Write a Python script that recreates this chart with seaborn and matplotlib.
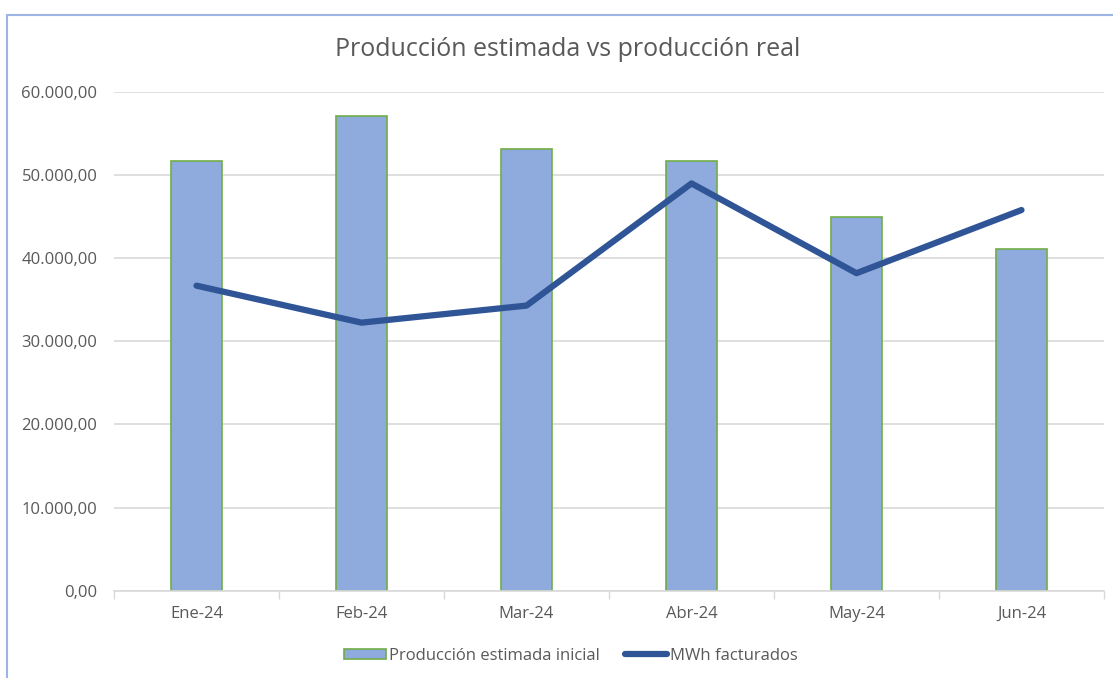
import matplotlib
matplotlib.use("Agg")
import matplotlib.pyplot as plt
import matplotlib.ticker as mticker
from matplotlib.lines import Line2D
from matplotlib.patches import Patch
import seaborn as sns
import pandas as pd
import numpy as np

months = ["Ene-24", "Feb-24", "Mar-24", "Abr-24", "May-24", "Jun-24"]
estimada = [51700, 57150, 53150, 51650, 45000, 41100]
facturados = [36700, 32250, 34300, 49000, 38200, 45800]
label_bar = "Producción estimada inicial"
label_line = "MWh facturados"
title = "Producción estimada vs producción real"

sns.set_theme(style="white")
plt.rcParams['font.family'] = ['Open Sans', 'DejaVu Sans']

df = pd.DataFrame({"mes": months, "estimada": estimada, "facturados": facturados})
df["pos"] = np.arange(len(months))

fig = plt.figure(figsize=(11.13, 6.78), dpi=100)
ax = fig.add_axes([114/1113, 1-590.7/678, (1104-114)/1113, (590.7-92)/678])

sns.barplot(data=df, x="mes", y="estimada", order=months, ax=ax, color="#8FAADC",
            saturation=1, width=0.315, edgecolor="#70AD47", linewidth=1.2, zorder=2)
sns.lineplot(data=df, x="pos", y="facturados", ax=ax, color="#2F5597", linewidth=4.5,
             zorder=3, solid_capstyle="round", solid_joinstyle="round")

ax.set_xlim(-0.5, len(months)-0.5)
ax.set_ylim(0, 60000)
ax.set_yticks(np.arange(0, 60001, 10000))
fmt = lambda v, p: f"{v:,.2f}".replace(",", "X").replace(".", ",").replace("X", ".")
ax.yaxis.set_major_formatter(mticker.FuncFormatter(fmt))
ax.set_xticks(np.arange(len(months)))
ax.set_xticklabels(months)
ax.set_xticks(np.arange(-0.5, len(months), 1), minor=True)
ax.tick_params(axis="x", which="major", length=0, pad=11, labelsize=12, colors="#595959")
ax.tick_params(axis="x", which="minor", length=6, width=1, color="#D9D9D9", bottom=True)
ax.tick_params(axis="y", length=0, pad=12, labelsize=12, colors="#595959")
ax.grid(axis="y", color="#D9D9D9", linewidth=1.2, zorder=0)
ax.set_axisbelow(True)
for s in ["top", "right", "left"]:
    ax.spines[s].set_visible(False)
ax.spines["bottom"].set_color("#D9D9D9")
ax.spines["bottom"].set_linewidth(1.2)
ax.set_xlabel("")
ax.set_ylabel("")

fig.text(0.510, 1-50/678, title, ha="center", va="center", fontsize=18, color="#595959")

handles = [Patch(facecolor="#8FAADC", edgecolor="#70AD47", linewidth=1.2),
           Line2D([0], [0], color="#2F5597", linewidth=4.5, solid_capstyle="round")]
fig.legend(handles, [label_bar, label_line], loc="center", bbox_to_anchor=(0.513, 1-656/678),
           ncol=2, frameon=False, fontsize=12, handlelength=2.5, handleheight=0.6,
           handletextpad=0.2, columnspacing=1.5, labelcolor="#595959")

# chart border (top and left visible)
fig.add_artist(Line2D([7/1113, 1], [1-15/678, 1-15/678], transform=fig.transFigure,
                      color="#9DB4E4", linewidth=1.5))
fig.add_artist(Line2D([7/1113, 7/1113], [0, 1-15/678], transform=fig.transFigure,
                      color="#9DB4E4", linewidth=1.5))

fig.savefig("out.png", dpi=100)
